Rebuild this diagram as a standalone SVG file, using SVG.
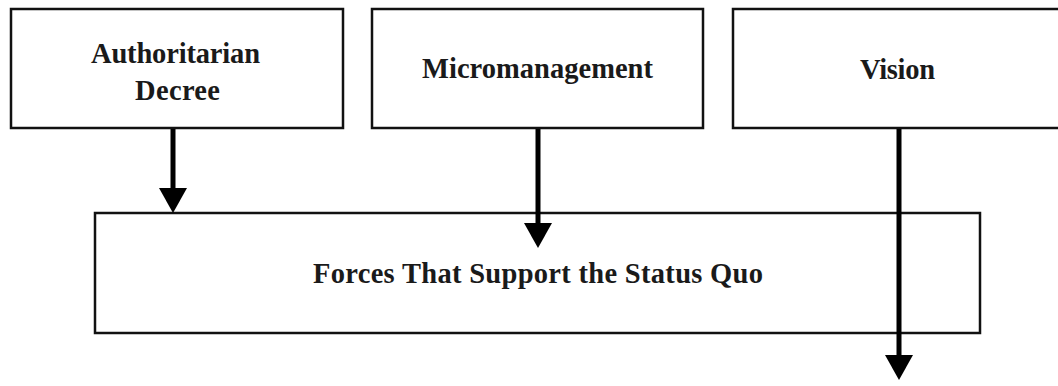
<svg xmlns="http://www.w3.org/2000/svg" width="1058" height="386" viewBox="0 0 1058 386">
  <style>
    .box { fill: #ffffff; stroke: #111111; stroke-width: 2.5; }
    .lbl { font-family: "Liberation Serif", "Times New Roman", serif; font-size: 28.5px; font-weight: bold; fill: #1a1a1a; text-anchor: middle; }
    .conn { stroke: #000000; stroke-width: 5; fill: none; marker-end: url(#arrow); }
  </style>
  <defs>
    <marker id="arrow" markerUnits="userSpaceOnUse" markerWidth="26" markerHeight="28" refX="5" refY="14" orient="auto">
      <path d="M0,0 L25,14 L0,28 z" fill="#000000"/>
    </marker>
  </defs>
  <rect width="1058" height="386" fill="#ffffff"/>
  <g id="node-authoritarian">
    <rect class="box" x="11" y="9" width="332" height="119"/>
    <text class="lbl" x="175.5" y="63" textLength="169" lengthAdjust="spacing">Authoritarian</text>
    <text class="lbl" x="177.5" y="100" textLength="85" lengthAdjust="spacing">Decree</text>
  </g>
  <g id="node-micromanagement">
    <rect class="box" x="372" y="9" width="331" height="119"/>
    <text class="lbl" x="537.5" y="78" textLength="231" lengthAdjust="spacing">Micromanagement</text>
  </g>
  <g id="node-vision">
    <rect class="box" x="733" y="9" width="340" height="119"/>
    <text class="lbl" x="897.5" y="79" textLength="75" lengthAdjust="spacing">Vision</text>
  </g>
  <g id="node-status-quo">
    <rect class="box" x="95" y="213" width="885" height="120"/>
    <text class="lbl" x="538" y="283" textLength="450" lengthAdjust="spacing">Forces That Support the Status Quo</text>
  </g>
  <g id="connectors">
    <line class="conn" x1="173" y1="129" x2="173" y2="193"/>
    <line class="conn" x1="538" y1="129" x2="538" y2="228"/>
    <line class="conn" x1="899" y1="129" x2="899" y2="360"/>
  </g>
</svg>
